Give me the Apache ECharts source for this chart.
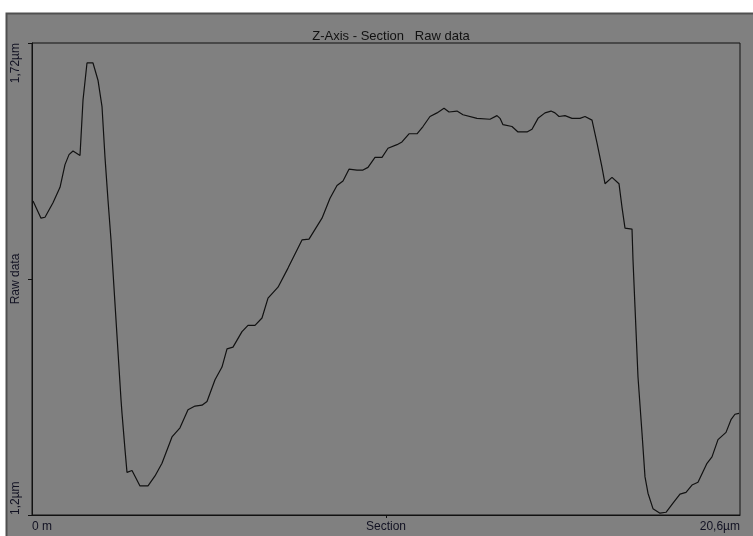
<!DOCTYPE html>
<html>
<head>
<meta charset="utf-8">
<script src="https://cdn.jsdelivr.net/npm/echarts@6/dist/echarts.min.js"></script>
<style>
html,body{margin:0;padding:0;background:#ffffff;}
#chart{width:753px;height:536px;}
</style>
</head>
<body>
<div id="chart"></div>
<script>
// Section position (µm)
var sectionX = [0.03,0.262,0.378,0.611,0.815,0.960,1.077,1.193,1.397,1.484,1.600,1.775,1.920,2.037,2.124,2.211,2.299,2.444,2.590,2.619,2.706,2.764,2.910,3.142,3.375,3.579,3.782,4.073,4.306,4.539,4.743,4.946,5.092,5.325,5.528,5.674,5.848,6.110,6.285,6.488,6.692,6.867,7.158,7.449,7.856,8.060,8.438,8.671,8.874,9.049,9.223,9.456,9.631,9.776,9.980,10.184,10.358,10.620,10.765,10.969,11.202,11.376,11.580,11.784,11.988,12.133,12.366,12.540,12.948,13.326,13.530,13.617,13.704,13.966,14.141,14.402,14.548,14.723,14.926,15.101,15.217,15.334,15.508,15.712,15.945,16.090,16.294,16.439,16.585,16.672,16.876,17.079,17.167,17.254,17.458,17.487,17.545,17.632,17.749,17.836,17.923,18.068,18.272,18.447,18.650,18.854,19.029,19.203,19.378,19.640,19.785,19.960,20.193,20.338,20.454,20.571];
// Raw data height (µm)
var rawZ = [1.546,1.527,1.528,1.544,1.561,1.586,1.597,1.601,1.596,1.657,1.698,1.698,1.679,1.650,1.594,1.547,1.503,1.415,1.327,1.312,1.272,1.247,1.249,1.232,1.232,1.243,1.257,1.286,1.296,1.316,1.320,1.321,1.325,1.349,1.363,1.383,1.385,1.402,1.409,1.409,1.417,1.439,1.451,1.472,1.503,1.504,1.527,1.549,1.563,1.568,1.581,1.580,1.580,1.583,1.594,1.594,1.604,1.608,1.611,1.620,1.620,1.628,1.639,1.643,1.648,1.644,1.645,1.641,1.637,1.636,1.640,1.637,1.630,1.628,1.622,1.622,1.625,1.637,1.643,1.645,1.643,1.639,1.640,1.637,1.637,1.639,1.635,1.610,1.583,1.565,1.572,1.565,1.539,1.516,1.515,1.481,1.429,1.352,1.290,1.242,1.224,1.207,1.202,1.203,1.213,1.223,1.225,1.233,1.236,1.257,1.264,1.283,1.291,1.305,1.311,1.312];

var titleText = 'Z-Axis - Section   Raw data';
var xTickValues = [0, 10.3, 20.6];
var xTickLabels = ['0 m', 'Section', '20,6µm'];
var yTickValues = [1.2, 1.46, 1.72];
var yTickLabels = ['1,2µm', 'Raw data', '1,72µm'];

var pts = sectionX.map(function (x, i) { return [x, rawZ[i]]; });
var fontFam = "'Liberation Sans', Arial, sans-serif";

var chart = echarts.init(document.getElementById('chart'), null, {renderer: 'canvas'});
chart.setOption({
  animation: false,
  backgroundColor: '#ffffff',
  graphic: [{
    type: 'rect',
    z: -10,
    shape: {x: 6.5, y: 13.5, width: 760, height: 540},
    style: {fill: '#808080', stroke: '#505050', lineWidth: 2}
  }],
  title: {
    text: titleText,
    left: 386,
    textAlign: 'center',
    top: 25,
    textStyle: {fontFamily: fontFam, fontSize: 13, fontWeight: 'normal', color: '#111111'}
  },
  grid: {
    left: 32, right: 13, top: 43, bottom: 21,
    show: true, borderColor: '#111111', borderWidth: 1, backgroundColor: 'transparent'
  },
  xAxis: {
    type: 'value', min: 0, max: 20.6,
    axisLine: {show: true, lineStyle: {color: '#111111', width: 1}},
    axisTick: {show: true, customValues: [10.3], length: 3, lineStyle: {color: '#111111'}},
    splitLine: {show: false},
    axisLabel: {
      customValues: xTickValues,
      margin: 6,
      fontFamily: fontFam, fontSize: 12, color: '#111122',
      alignMinLabel: 'left', alignMaxLabel: 'right',
      formatter: function (v) {
        var i = xTickValues.findIndex(function (t) { return Math.abs(t - v) < 1e-6; });
        return i >= 0 ? xTickLabels[i] : '';
      }
    }
  },
  yAxis: {
    type: 'value', min: 1.2, max: 1.72,
    axisLine: {show: true, lineStyle: {color: '#111111', width: 1}},
    axisTick: {show: true, customValues: yTickValues, length: 4, lineStyle: {color: '#111111'}},
    splitLine: {show: false},
    axisLabel: {
      customValues: yTickValues,
      rotate: 90,
      margin: 10,
      fontFamily: fontFam, fontSize: 12, color: '#111122',
      alignMinLabel: 'left', alignMaxLabel: 'right',
      formatter: function (v) {
        var i = yTickValues.findIndex(function (t) { return Math.abs(t - v) < 1e-6; });
        return i >= 0 ? yTickLabels[i] : '';
      }
    }
  },
  series: [{
    type: 'line',
    data: pts,
    showSymbol: false,
    symbol: 'none',
    lineStyle: {color: '#111111', width: 1.2},
    clip: true
  }]
});
</script>
</body>
</html>
